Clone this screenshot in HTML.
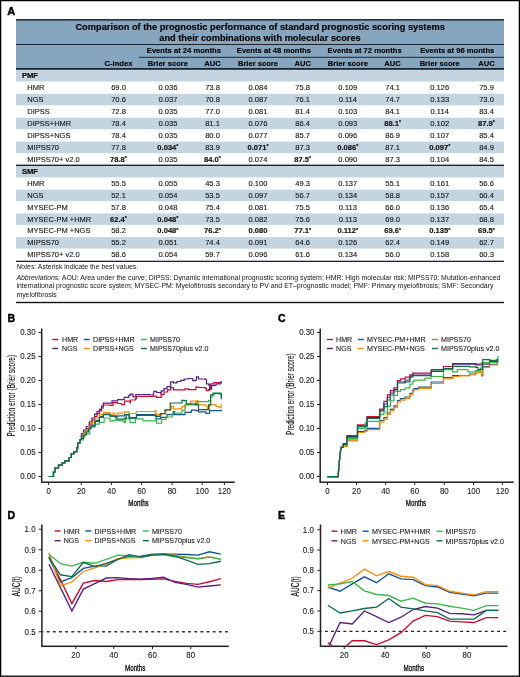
<!DOCTYPE html>
<html><head><meta charset="utf-8"><title>Prognostic performance</title>
<style>html,body{margin:0;padding:0;background:#fff;width:520px;height:677px;overflow:hidden}svg{display:block;will-change:transform}text{font-family:"Liberation Sans", sans-serif;stroke:#151515;stroke-width:0.12px} text[font-weight=bold]{stroke-width:0.18px} text.n{stroke-width:0px} text.c{stroke-width:0.15px} text.m{stroke-width:0.35px} text.t{stroke-width:0.1px} text.p{stroke:#000;stroke-width:0.45px}</style></head>
<body><svg width="520" height="677" viewBox="0 0 520 677" font-family='"Liberation Sans", sans-serif'>
<rect x="0.6" y="0.6" width="518.8" height="675.6" fill="#fff" stroke="#000" stroke-width="1.3"/>
<text class="p" x="7.30" y="15.20" font-size="11.00" font-weight="bold" font-style="normal" text-anchor="start" fill="#000"  >A</text>
<rect x="16" y="19.5" width="488" height="49.5" fill="#86a6c0"/>
<rect x="16" y="19.1" width="488" height="1.5" fill="#1c2630"/>
<rect x="16" y="44" width="488" height="1" fill="#1c2630"/>
<rect x="139" y="56.8" width="365" height="1" fill="#1c2630"/>
<rect x="16" y="68" width="488" height="1.9" fill="#1c2630"/>
<text class="" x="260.20" y="30.20" font-size="9.62" font-weight="bold" font-style="normal" text-anchor="middle" fill="#000" textLength="369.52" lengthAdjust="spacingAndGlyphs" >Comparison of the prognostic performance of standard prognostic scoring systems</text>
<text class="" x="260.00" y="40.90" font-size="9.62" font-weight="bold" font-style="normal" text-anchor="middle" fill="#000" textLength="201.48" lengthAdjust="spacingAndGlyphs" >and their combinations with molecular scores</text>
<text class="" x="146.80" y="52.80" font-size="8.08" font-weight="bold" font-style="normal" text-anchor="start" fill="#000" textLength="74.10" lengthAdjust="spacingAndGlyphs" >Events at 24 months</text>
<text class="" x="236.80" y="52.80" font-size="8.08" font-weight="bold" font-style="normal" text-anchor="start" fill="#000" textLength="74.10" lengthAdjust="spacingAndGlyphs" >Events at 48 months</text>
<text class="" x="327.60" y="52.80" font-size="8.08" font-weight="bold" font-style="normal" text-anchor="start" fill="#000" textLength="74.10" lengthAdjust="spacingAndGlyphs" >Events at 72 months</text>
<text class="" x="420.20" y="52.80" font-size="8.08" font-weight="bold" font-style="normal" text-anchor="start" fill="#000" textLength="74.10" lengthAdjust="spacingAndGlyphs" >Events at 96 months</text>
<text class="" x="118.50" y="65.60" font-size="8.06" font-weight="bold" font-style="normal" text-anchor="middle" fill="#000" textLength="27.87" lengthAdjust="spacingAndGlyphs" >C-index</text>
<text class="" x="167.90" y="65.60" font-size="8.06" font-weight="bold" font-style="normal" text-anchor="middle" fill="#000" textLength="40.13" lengthAdjust="spacingAndGlyphs" >Brier score</text>
<text class="" x="212.50" y="65.60" font-size="8.06" font-weight="bold" font-style="normal" text-anchor="middle" fill="#000" textLength="16.47" lengthAdjust="spacingAndGlyphs" >AUC</text>
<text class="" x="258.00" y="65.60" font-size="8.06" font-weight="bold" font-style="normal" text-anchor="middle" fill="#000" textLength="40.13" lengthAdjust="spacingAndGlyphs" >Brier score</text>
<text class="" x="302.70" y="65.60" font-size="8.06" font-weight="bold" font-style="normal" text-anchor="middle" fill="#000" textLength="16.47" lengthAdjust="spacingAndGlyphs" >AUC</text>
<text class="" x="347.80" y="65.60" font-size="8.06" font-weight="bold" font-style="normal" text-anchor="middle" fill="#000" textLength="40.13" lengthAdjust="spacingAndGlyphs" >Brier score</text>
<text class="" x="392.60" y="65.60" font-size="8.06" font-weight="bold" font-style="normal" text-anchor="middle" fill="#000" textLength="16.47" lengthAdjust="spacingAndGlyphs" >AUC</text>
<text class="" x="439.70" y="65.60" font-size="8.06" font-weight="bold" font-style="normal" text-anchor="middle" fill="#000" textLength="40.13" lengthAdjust="spacingAndGlyphs" >Brier score</text>
<text class="" x="486.50" y="65.60" font-size="8.06" font-weight="bold" font-style="normal" text-anchor="middle" fill="#000" textLength="16.47" lengthAdjust="spacingAndGlyphs" >AUC</text>
<rect x="16" y="69.90" width="488" height="11.55" fill="#c4d4e1"/>
<rect x="16" y="93.80" width="488" height="11.55" fill="#c4d4e1"/>
<rect x="16" y="117.70" width="488" height="11.55" fill="#c4d4e1"/>
<rect x="16" y="141.60" width="488" height="11.55" fill="#c4d4e1"/>
<text class="" x="21.90" y="77.80" font-size="8.06" font-weight="bold" font-style="normal" text-anchor="start" fill="#000" textLength="16.04" lengthAdjust="spacingAndGlyphs" >PMF</text>
<text class="" x="27.30" y="90.05" font-size="7.95" font-weight="normal" font-style="normal" text-anchor="start" fill="#151515" textLength="17.08" lengthAdjust="spacingAndGlyphs" >HMR</text>
<text class="" x="118.50" y="90.05" font-size="8.00" font-weight="normal" font-style="normal" text-anchor="middle" fill="#151515" textLength="14.69" lengthAdjust="spacingAndGlyphs" >69.0</text>
<text class="" x="167.90" y="90.05" font-size="8.00" font-weight="normal" font-style="normal" text-anchor="middle" fill="#151515" textLength="18.89" lengthAdjust="spacingAndGlyphs" >0.036</text>
<text class="" x="212.50" y="90.05" font-size="8.00" font-weight="normal" font-style="normal" text-anchor="middle" fill="#151515" textLength="14.69" lengthAdjust="spacingAndGlyphs" >73.8</text>
<text class="" x="258.00" y="90.05" font-size="8.00" font-weight="normal" font-style="normal" text-anchor="middle" fill="#151515" textLength="18.89" lengthAdjust="spacingAndGlyphs" >0.084</text>
<text class="" x="302.70" y="90.05" font-size="8.00" font-weight="normal" font-style="normal" text-anchor="middle" fill="#151515" textLength="14.69" lengthAdjust="spacingAndGlyphs" >75.8</text>
<text class="" x="347.80" y="90.05" font-size="8.00" font-weight="normal" font-style="normal" text-anchor="middle" fill="#151515" textLength="18.89" lengthAdjust="spacingAndGlyphs" >0.109</text>
<text class="" x="392.60" y="90.05" font-size="8.00" font-weight="normal" font-style="normal" text-anchor="middle" fill="#151515" textLength="14.69" lengthAdjust="spacingAndGlyphs" >74.1</text>
<text class="" x="439.70" y="90.05" font-size="8.00" font-weight="normal" font-style="normal" text-anchor="middle" fill="#151515" textLength="18.89" lengthAdjust="spacingAndGlyphs" >0.126</text>
<text class="" x="486.50" y="90.05" font-size="8.00" font-weight="normal" font-style="normal" text-anchor="middle" fill="#151515" textLength="14.69" lengthAdjust="spacingAndGlyphs" >75.9</text>
<text class="" x="27.30" y="102.00" font-size="7.95" font-weight="normal" font-style="normal" text-anchor="start" fill="#151515" textLength="16.25" lengthAdjust="spacingAndGlyphs" >NGS</text>
<text class="" x="118.50" y="102.00" font-size="8.00" font-weight="normal" font-style="normal" text-anchor="middle" fill="#151515" textLength="14.69" lengthAdjust="spacingAndGlyphs" >70.6</text>
<text class="" x="167.90" y="102.00" font-size="8.00" font-weight="normal" font-style="normal" text-anchor="middle" fill="#151515" textLength="18.89" lengthAdjust="spacingAndGlyphs" >0.037</text>
<text class="" x="212.50" y="102.00" font-size="8.00" font-weight="normal" font-style="normal" text-anchor="middle" fill="#151515" textLength="14.69" lengthAdjust="spacingAndGlyphs" >70.8</text>
<text class="" x="258.00" y="102.00" font-size="8.00" font-weight="normal" font-style="normal" text-anchor="middle" fill="#151515" textLength="18.89" lengthAdjust="spacingAndGlyphs" >0.087</text>
<text class="" x="302.70" y="102.00" font-size="8.00" font-weight="normal" font-style="normal" text-anchor="middle" fill="#151515" textLength="14.69" lengthAdjust="spacingAndGlyphs" >76.1</text>
<text class="" x="347.80" y="102.00" font-size="8.00" font-weight="normal" font-style="normal" text-anchor="middle" fill="#151515" textLength="18.33" lengthAdjust="spacingAndGlyphs" >0.114</text>
<text class="" x="392.60" y="102.00" font-size="8.00" font-weight="normal" font-style="normal" text-anchor="middle" fill="#151515" textLength="14.69" lengthAdjust="spacingAndGlyphs" >74.7</text>
<text class="" x="439.70" y="102.00" font-size="8.00" font-weight="normal" font-style="normal" text-anchor="middle" fill="#151515" textLength="18.89" lengthAdjust="spacingAndGlyphs" >0.133</text>
<text class="" x="486.50" y="102.00" font-size="8.00" font-weight="normal" font-style="normal" text-anchor="middle" fill="#151515" textLength="14.69" lengthAdjust="spacingAndGlyphs" >73.0</text>
<text class="" x="27.30" y="113.95" font-size="7.95" font-weight="normal" font-style="normal" text-anchor="start" fill="#151515" textLength="22.51" lengthAdjust="spacingAndGlyphs" >DIPSS</text>
<text class="" x="118.50" y="113.95" font-size="8.00" font-weight="normal" font-style="normal" text-anchor="middle" fill="#151515" textLength="14.69" lengthAdjust="spacingAndGlyphs" >72.8</text>
<text class="" x="167.90" y="113.95" font-size="8.00" font-weight="normal" font-style="normal" text-anchor="middle" fill="#151515" textLength="18.89" lengthAdjust="spacingAndGlyphs" >0.035</text>
<text class="" x="212.50" y="113.95" font-size="8.00" font-weight="normal" font-style="normal" text-anchor="middle" fill="#151515" textLength="14.69" lengthAdjust="spacingAndGlyphs" >77.0</text>
<text class="" x="258.00" y="113.95" font-size="8.00" font-weight="normal" font-style="normal" text-anchor="middle" fill="#151515" textLength="18.89" lengthAdjust="spacingAndGlyphs" >0.081</text>
<text class="" x="302.70" y="113.95" font-size="8.00" font-weight="normal" font-style="normal" text-anchor="middle" fill="#151515" textLength="14.69" lengthAdjust="spacingAndGlyphs" >81.4</text>
<text class="" x="347.80" y="113.95" font-size="8.00" font-weight="normal" font-style="normal" text-anchor="middle" fill="#151515" textLength="18.89" lengthAdjust="spacingAndGlyphs" >0.103</text>
<text class="" x="392.60" y="113.95" font-size="8.00" font-weight="normal" font-style="normal" text-anchor="middle" fill="#151515" textLength="14.69" lengthAdjust="spacingAndGlyphs" >84.1</text>
<text class="" x="439.70" y="113.95" font-size="8.00" font-weight="normal" font-style="normal" text-anchor="middle" fill="#151515" textLength="18.33" lengthAdjust="spacingAndGlyphs" >0.114</text>
<text class="" x="486.50" y="113.95" font-size="8.00" font-weight="normal" font-style="normal" text-anchor="middle" fill="#151515" textLength="14.69" lengthAdjust="spacingAndGlyphs" >83.4</text>
<text class="" x="27.30" y="125.90" font-size="7.95" font-weight="normal" font-style="normal" text-anchor="start" fill="#151515" textLength="43.97" lengthAdjust="spacingAndGlyphs" >DIPSS+HMR</text>
<text class="" x="118.50" y="125.90" font-size="8.00" font-weight="normal" font-style="normal" text-anchor="middle" fill="#151515" textLength="14.69" lengthAdjust="spacingAndGlyphs" >78.4</text>
<text class="" x="167.90" y="125.90" font-size="8.00" font-weight="normal" font-style="normal" text-anchor="middle" fill="#151515" textLength="18.89" lengthAdjust="spacingAndGlyphs" >0.035</text>
<text class="" x="212.50" y="125.90" font-size="8.00" font-weight="normal" font-style="normal" text-anchor="middle" fill="#151515" textLength="14.69" lengthAdjust="spacingAndGlyphs" >81.1</text>
<text class="" x="258.00" y="125.90" font-size="8.00" font-weight="normal" font-style="normal" text-anchor="middle" fill="#151515" textLength="18.89" lengthAdjust="spacingAndGlyphs" >0.076</text>
<text class="" x="302.70" y="125.90" font-size="8.00" font-weight="normal" font-style="normal" text-anchor="middle" fill="#151515" textLength="14.69" lengthAdjust="spacingAndGlyphs" >86.4</text>
<text class="" x="347.80" y="125.90" font-size="8.00" font-weight="normal" font-style="normal" text-anchor="middle" fill="#151515" textLength="18.89" lengthAdjust="spacingAndGlyphs" >0.093</text>
<text class="" x="392.60" y="125.90" font-size="8.00" font-weight="bold" font-style="normal" text-anchor="middle" fill="#151515" textLength="16.87" lengthAdjust="spacingAndGlyphs" >88.1<tspan font-size="5.6" dy="-1.5">*</tspan></text>
<text class="" x="439.70" y="125.90" font-size="8.00" font-weight="normal" font-style="normal" text-anchor="middle" fill="#151515" textLength="18.89" lengthAdjust="spacingAndGlyphs" >0.102</text>
<text class="" x="486.50" y="125.90" font-size="8.00" font-weight="bold" font-style="normal" text-anchor="middle" fill="#151515" textLength="16.87" lengthAdjust="spacingAndGlyphs" >87.9<tspan font-size="5.6" dy="-1.5">*</tspan></text>
<text class="" x="27.30" y="137.85" font-size="7.95" font-weight="normal" font-style="normal" text-anchor="start" fill="#151515" textLength="43.14" lengthAdjust="spacingAndGlyphs" >DIPSS+NGS</text>
<text class="" x="118.50" y="137.85" font-size="8.00" font-weight="normal" font-style="normal" text-anchor="middle" fill="#151515" textLength="14.69" lengthAdjust="spacingAndGlyphs" >78.4</text>
<text class="" x="167.90" y="137.85" font-size="8.00" font-weight="normal" font-style="normal" text-anchor="middle" fill="#151515" textLength="18.89" lengthAdjust="spacingAndGlyphs" >0.035</text>
<text class="" x="212.50" y="137.85" font-size="8.00" font-weight="normal" font-style="normal" text-anchor="middle" fill="#151515" textLength="14.69" lengthAdjust="spacingAndGlyphs" >80.0</text>
<text class="" x="258.00" y="137.85" font-size="8.00" font-weight="normal" font-style="normal" text-anchor="middle" fill="#151515" textLength="18.89" lengthAdjust="spacingAndGlyphs" >0.077</text>
<text class="" x="302.70" y="137.85" font-size="8.00" font-weight="normal" font-style="normal" text-anchor="middle" fill="#151515" textLength="14.69" lengthAdjust="spacingAndGlyphs" >85.7</text>
<text class="" x="347.80" y="137.85" font-size="8.00" font-weight="normal" font-style="normal" text-anchor="middle" fill="#151515" textLength="18.89" lengthAdjust="spacingAndGlyphs" >0.096</text>
<text class="" x="392.60" y="137.85" font-size="8.00" font-weight="normal" font-style="normal" text-anchor="middle" fill="#151515" textLength="14.69" lengthAdjust="spacingAndGlyphs" >86.9</text>
<text class="" x="439.70" y="137.85" font-size="8.00" font-weight="normal" font-style="normal" text-anchor="middle" fill="#151515" textLength="18.89" lengthAdjust="spacingAndGlyphs" >0.107</text>
<text class="" x="486.50" y="137.85" font-size="8.00" font-weight="normal" font-style="normal" text-anchor="middle" fill="#151515" textLength="14.69" lengthAdjust="spacingAndGlyphs" >85.4</text>
<text class="" x="27.30" y="149.80" font-size="7.95" font-weight="normal" font-style="normal" text-anchor="start" fill="#151515" textLength="31.68" lengthAdjust="spacingAndGlyphs" >MIPSS70</text>
<text class="" x="118.50" y="149.80" font-size="8.00" font-weight="normal" font-style="normal" text-anchor="middle" fill="#151515" textLength="14.69" lengthAdjust="spacingAndGlyphs" >77.8</text>
<text class="" x="167.90" y="149.80" font-size="8.00" font-weight="bold" font-style="normal" text-anchor="middle" fill="#151515" textLength="21.07" lengthAdjust="spacingAndGlyphs" >0.034<tspan font-size="5.6" dy="-1.5">*</tspan></text>
<text class="" x="212.50" y="149.80" font-size="8.00" font-weight="normal" font-style="normal" text-anchor="middle" fill="#151515" textLength="14.69" lengthAdjust="spacingAndGlyphs" >83.9</text>
<text class="" x="258.00" y="149.80" font-size="8.00" font-weight="bold" font-style="normal" text-anchor="middle" fill="#151515" textLength="21.07" lengthAdjust="spacingAndGlyphs" >0.071<tspan font-size="5.6" dy="-1.5">*</tspan></text>
<text class="" x="302.70" y="149.80" font-size="8.00" font-weight="normal" font-style="normal" text-anchor="middle" fill="#151515" textLength="14.69" lengthAdjust="spacingAndGlyphs" >87.3</text>
<text class="" x="347.80" y="149.80" font-size="8.00" font-weight="bold" font-style="normal" text-anchor="middle" fill="#151515" textLength="21.07" lengthAdjust="spacingAndGlyphs" >0.086<tspan font-size="5.6" dy="-1.5">*</tspan></text>
<text class="" x="392.60" y="149.80" font-size="8.00" font-weight="normal" font-style="normal" text-anchor="middle" fill="#151515" textLength="14.69" lengthAdjust="spacingAndGlyphs" >87.1</text>
<text class="" x="439.70" y="149.80" font-size="8.00" font-weight="bold" font-style="normal" text-anchor="middle" fill="#151515" textLength="21.07" lengthAdjust="spacingAndGlyphs" >0.097<tspan font-size="5.6" dy="-1.5">*</tspan></text>
<text class="" x="486.50" y="149.80" font-size="8.00" font-weight="normal" font-style="normal" text-anchor="middle" fill="#151515" textLength="14.69" lengthAdjust="spacingAndGlyphs" >84.9</text>
<text class="" x="27.30" y="161.75" font-size="7.95" font-weight="normal" font-style="normal" text-anchor="start" fill="#151515" textLength="52.32" lengthAdjust="spacingAndGlyphs" >MIPSS70+ v2.0</text>
<text class="" x="118.50" y="161.75" font-size="8.00" font-weight="bold" font-style="normal" text-anchor="middle" fill="#151515" textLength="16.87" lengthAdjust="spacingAndGlyphs" >78.8<tspan font-size="5.6" dy="-1.5">*</tspan></text>
<text class="" x="167.90" y="161.75" font-size="8.00" font-weight="normal" font-style="normal" text-anchor="middle" fill="#151515" textLength="18.89" lengthAdjust="spacingAndGlyphs" >0.035</text>
<text class="" x="212.50" y="161.75" font-size="8.00" font-weight="bold" font-style="normal" text-anchor="middle" fill="#151515" textLength="16.87" lengthAdjust="spacingAndGlyphs" >84.0<tspan font-size="5.6" dy="-1.5">*</tspan></text>
<text class="" x="258.00" y="161.75" font-size="8.00" font-weight="normal" font-style="normal" text-anchor="middle" fill="#151515" textLength="18.89" lengthAdjust="spacingAndGlyphs" >0.074</text>
<text class="" x="302.70" y="161.75" font-size="8.00" font-weight="bold" font-style="normal" text-anchor="middle" fill="#151515" textLength="16.87" lengthAdjust="spacingAndGlyphs" >87.5<tspan font-size="5.6" dy="-1.5">*</tspan></text>
<text class="" x="347.80" y="161.75" font-size="8.00" font-weight="normal" font-style="normal" text-anchor="middle" fill="#151515" textLength="18.89" lengthAdjust="spacingAndGlyphs" >0.090</text>
<text class="" x="392.60" y="161.75" font-size="8.00" font-weight="normal" font-style="normal" text-anchor="middle" fill="#151515" textLength="14.69" lengthAdjust="spacingAndGlyphs" >87.3</text>
<text class="" x="439.70" y="161.75" font-size="8.00" font-weight="normal" font-style="normal" text-anchor="middle" fill="#151515" textLength="18.89" lengthAdjust="spacingAndGlyphs" >0.104</text>
<text class="" x="486.50" y="161.75" font-size="8.00" font-weight="normal" font-style="normal" text-anchor="middle" fill="#151515" textLength="14.69" lengthAdjust="spacingAndGlyphs" >84.5</text>
<rect x="16" y="164.6" width="488" height="1.4" fill="#1c2630"/>
<rect x="16" y="166.00" width="488" height="11.45" fill="#c4d4e1"/>
<rect x="16" y="189.70" width="488" height="11.45" fill="#c4d4e1"/>
<rect x="16" y="213.40" width="488" height="11.45" fill="#c4d4e1"/>
<rect x="16" y="237.10" width="488" height="11.45" fill="#c4d4e1"/>
<text class="" x="21.90" y="173.90" font-size="8.06" font-weight="bold" font-style="normal" text-anchor="start" fill="#000" textLength="16.04" lengthAdjust="spacingAndGlyphs" >SMF</text>
<text class="" x="27.30" y="186.05" font-size="7.95" font-weight="normal" font-style="normal" text-anchor="start" fill="#151515" textLength="17.08" lengthAdjust="spacingAndGlyphs" >HMR</text>
<text class="" x="118.50" y="186.05" font-size="8.00" font-weight="normal" font-style="normal" text-anchor="middle" fill="#151515" textLength="14.69" lengthAdjust="spacingAndGlyphs" >55.5</text>
<text class="" x="167.90" y="186.05" font-size="8.00" font-weight="normal" font-style="normal" text-anchor="middle" fill="#151515" textLength="18.89" lengthAdjust="spacingAndGlyphs" >0.055</text>
<text class="" x="212.50" y="186.05" font-size="8.00" font-weight="normal" font-style="normal" text-anchor="middle" fill="#151515" textLength="14.69" lengthAdjust="spacingAndGlyphs" >45.3</text>
<text class="" x="258.00" y="186.05" font-size="8.00" font-weight="normal" font-style="normal" text-anchor="middle" fill="#151515" textLength="18.89" lengthAdjust="spacingAndGlyphs" >0.100</text>
<text class="" x="302.70" y="186.05" font-size="8.00" font-weight="normal" font-style="normal" text-anchor="middle" fill="#151515" textLength="14.69" lengthAdjust="spacingAndGlyphs" >49.3</text>
<text class="" x="347.80" y="186.05" font-size="8.00" font-weight="normal" font-style="normal" text-anchor="middle" fill="#151515" textLength="18.89" lengthAdjust="spacingAndGlyphs" >0.137</text>
<text class="" x="392.60" y="186.05" font-size="8.00" font-weight="normal" font-style="normal" text-anchor="middle" fill="#151515" textLength="14.69" lengthAdjust="spacingAndGlyphs" >55.1</text>
<text class="" x="439.70" y="186.05" font-size="8.00" font-weight="normal" font-style="normal" text-anchor="middle" fill="#151515" textLength="18.89" lengthAdjust="spacingAndGlyphs" >0.161</text>
<text class="" x="486.50" y="186.05" font-size="8.00" font-weight="normal" font-style="normal" text-anchor="middle" fill="#151515" textLength="14.69" lengthAdjust="spacingAndGlyphs" >56.6</text>
<text class="" x="27.30" y="197.90" font-size="7.95" font-weight="normal" font-style="normal" text-anchor="start" fill="#151515" textLength="16.25" lengthAdjust="spacingAndGlyphs" >NGS</text>
<text class="" x="118.50" y="197.90" font-size="8.00" font-weight="normal" font-style="normal" text-anchor="middle" fill="#151515" textLength="14.69" lengthAdjust="spacingAndGlyphs" >52.1</text>
<text class="" x="167.90" y="197.90" font-size="8.00" font-weight="normal" font-style="normal" text-anchor="middle" fill="#151515" textLength="18.89" lengthAdjust="spacingAndGlyphs" >0.054</text>
<text class="" x="212.50" y="197.90" font-size="8.00" font-weight="normal" font-style="normal" text-anchor="middle" fill="#151515" textLength="14.69" lengthAdjust="spacingAndGlyphs" >53.5</text>
<text class="" x="258.00" y="197.90" font-size="8.00" font-weight="normal" font-style="normal" text-anchor="middle" fill="#151515" textLength="18.89" lengthAdjust="spacingAndGlyphs" >0.097</text>
<text class="" x="302.70" y="197.90" font-size="8.00" font-weight="normal" font-style="normal" text-anchor="middle" fill="#151515" textLength="14.69" lengthAdjust="spacingAndGlyphs" >56.7</text>
<text class="" x="347.80" y="197.90" font-size="8.00" font-weight="normal" font-style="normal" text-anchor="middle" fill="#151515" textLength="18.89" lengthAdjust="spacingAndGlyphs" >0.134</text>
<text class="" x="392.60" y="197.90" font-size="8.00" font-weight="normal" font-style="normal" text-anchor="middle" fill="#151515" textLength="14.69" lengthAdjust="spacingAndGlyphs" >58.8</text>
<text class="" x="439.70" y="197.90" font-size="8.00" font-weight="normal" font-style="normal" text-anchor="middle" fill="#151515" textLength="18.89" lengthAdjust="spacingAndGlyphs" >0.157</text>
<text class="" x="486.50" y="197.90" font-size="8.00" font-weight="normal" font-style="normal" text-anchor="middle" fill="#151515" textLength="14.69" lengthAdjust="spacingAndGlyphs" >60.4</text>
<text class="" x="27.30" y="209.75" font-size="7.95" font-weight="normal" font-style="normal" text-anchor="start" fill="#151515" textLength="40.42" lengthAdjust="spacingAndGlyphs" >MYSEC-PM</text>
<text class="" x="118.50" y="209.75" font-size="8.00" font-weight="normal" font-style="normal" text-anchor="middle" fill="#151515" textLength="14.69" lengthAdjust="spacingAndGlyphs" >57.8</text>
<text class="" x="167.90" y="209.75" font-size="8.00" font-weight="normal" font-style="normal" text-anchor="middle" fill="#151515" textLength="18.89" lengthAdjust="spacingAndGlyphs" >0.048</text>
<text class="" x="212.50" y="209.75" font-size="8.00" font-weight="normal" font-style="normal" text-anchor="middle" fill="#151515" textLength="14.69" lengthAdjust="spacingAndGlyphs" >75.4</text>
<text class="" x="258.00" y="209.75" font-size="8.00" font-weight="normal" font-style="normal" text-anchor="middle" fill="#151515" textLength="18.89" lengthAdjust="spacingAndGlyphs" >0.081</text>
<text class="" x="302.70" y="209.75" font-size="8.00" font-weight="normal" font-style="normal" text-anchor="middle" fill="#151515" textLength="14.69" lengthAdjust="spacingAndGlyphs" >75.5</text>
<text class="" x="347.80" y="209.75" font-size="8.00" font-weight="normal" font-style="normal" text-anchor="middle" fill="#151515" textLength="18.33" lengthAdjust="spacingAndGlyphs" >0.113</text>
<text class="" x="392.60" y="209.75" font-size="8.00" font-weight="normal" font-style="normal" text-anchor="middle" fill="#151515" textLength="14.69" lengthAdjust="spacingAndGlyphs" >66.0</text>
<text class="" x="439.70" y="209.75" font-size="8.00" font-weight="normal" font-style="normal" text-anchor="middle" fill="#151515" textLength="18.89" lengthAdjust="spacingAndGlyphs" >0.136</text>
<text class="" x="486.50" y="209.75" font-size="8.00" font-weight="normal" font-style="normal" text-anchor="middle" fill="#151515" textLength="14.69" lengthAdjust="spacingAndGlyphs" >65.4</text>
<text class="" x="27.30" y="221.60" font-size="7.95" font-weight="normal" font-style="normal" text-anchor="start" fill="#151515" textLength="63.96" lengthAdjust="spacingAndGlyphs" >MYSEC-PM +HMR</text>
<text class="" x="118.50" y="221.60" font-size="8.00" font-weight="bold" font-style="normal" text-anchor="middle" fill="#151515" textLength="16.87" lengthAdjust="spacingAndGlyphs" >62.4<tspan font-size="5.6" dy="-1.5">*</tspan></text>
<text class="" x="167.90" y="221.60" font-size="8.00" font-weight="bold" font-style="normal" text-anchor="middle" fill="#151515" textLength="21.07" lengthAdjust="spacingAndGlyphs" >0.048<tspan font-size="5.6" dy="-1.5">*</tspan></text>
<text class="" x="212.50" y="221.60" font-size="8.00" font-weight="normal" font-style="normal" text-anchor="middle" fill="#151515" textLength="14.69" lengthAdjust="spacingAndGlyphs" >73.5</text>
<text class="" x="258.00" y="221.60" font-size="8.00" font-weight="normal" font-style="normal" text-anchor="middle" fill="#151515" textLength="18.89" lengthAdjust="spacingAndGlyphs" >0.082</text>
<text class="" x="302.70" y="221.60" font-size="8.00" font-weight="normal" font-style="normal" text-anchor="middle" fill="#151515" textLength="14.69" lengthAdjust="spacingAndGlyphs" >75.6</text>
<text class="" x="347.80" y="221.60" font-size="8.00" font-weight="normal" font-style="normal" text-anchor="middle" fill="#151515" textLength="18.33" lengthAdjust="spacingAndGlyphs" >0.113</text>
<text class="" x="392.60" y="221.60" font-size="8.00" font-weight="normal" font-style="normal" text-anchor="middle" fill="#151515" textLength="14.69" lengthAdjust="spacingAndGlyphs" >69.0</text>
<text class="" x="439.70" y="221.60" font-size="8.00" font-weight="normal" font-style="normal" text-anchor="middle" fill="#151515" textLength="18.89" lengthAdjust="spacingAndGlyphs" >0.137</text>
<text class="" x="486.50" y="221.60" font-size="8.00" font-weight="normal" font-style="normal" text-anchor="middle" fill="#151515" textLength="14.69" lengthAdjust="spacingAndGlyphs" >68.8</text>
<text class="" x="27.30" y="233.45" font-size="7.95" font-weight="normal" font-style="normal" text-anchor="start" fill="#151515" textLength="63.14" lengthAdjust="spacingAndGlyphs" >MYSEC-PM +NGS</text>
<text class="" x="118.50" y="233.45" font-size="8.00" font-weight="normal" font-style="normal" text-anchor="middle" fill="#151515" textLength="14.69" lengthAdjust="spacingAndGlyphs" >58.2</text>
<text class="" x="167.90" y="233.45" font-size="8.00" font-weight="bold" font-style="normal" text-anchor="middle" fill="#151515" textLength="21.07" lengthAdjust="spacingAndGlyphs" >0.048<tspan font-size="5.6" dy="-1.5">*</tspan></text>
<text class="" x="212.50" y="233.45" font-size="8.00" font-weight="bold" font-style="normal" text-anchor="middle" fill="#151515" textLength="16.87" lengthAdjust="spacingAndGlyphs" >76.2<tspan font-size="5.6" dy="-1.5">*</tspan></text>
<text class="" x="258.00" y="233.45" font-size="8.00" font-weight="bold" font-style="normal" text-anchor="middle" fill="#151515" textLength="18.89" lengthAdjust="spacingAndGlyphs" >0.080</text>
<text class="" x="302.70" y="233.45" font-size="8.00" font-weight="bold" font-style="normal" text-anchor="middle" fill="#151515" textLength="16.87" lengthAdjust="spacingAndGlyphs" >77.1<tspan font-size="5.6" dy="-1.5">*</tspan></text>
<text class="" x="347.80" y="233.45" font-size="8.00" font-weight="bold" font-style="normal" text-anchor="middle" fill="#151515" textLength="20.65" lengthAdjust="spacingAndGlyphs" >0.112<tspan font-size="5.6" dy="-1.5">*</tspan></text>
<text class="" x="392.60" y="233.45" font-size="8.00" font-weight="bold" font-style="normal" text-anchor="middle" fill="#151515" textLength="16.87" lengthAdjust="spacingAndGlyphs" >69.6<tspan font-size="5.6" dy="-1.5">*</tspan></text>
<text class="" x="439.70" y="233.45" font-size="8.00" font-weight="bold" font-style="normal" text-anchor="middle" fill="#151515" textLength="21.07" lengthAdjust="spacingAndGlyphs" >0.135<tspan font-size="5.6" dy="-1.5">*</tspan></text>
<text class="" x="486.50" y="233.45" font-size="8.00" font-weight="bold" font-style="normal" text-anchor="middle" fill="#151515" textLength="16.87" lengthAdjust="spacingAndGlyphs" >69.5<tspan font-size="5.6" dy="-1.5">*</tspan></text>
<text class="" x="27.30" y="245.30" font-size="7.95" font-weight="normal" font-style="normal" text-anchor="start" fill="#151515" textLength="31.68" lengthAdjust="spacingAndGlyphs" >MIPSS70</text>
<text class="" x="118.50" y="245.30" font-size="8.00" font-weight="normal" font-style="normal" text-anchor="middle" fill="#151515" textLength="14.69" lengthAdjust="spacingAndGlyphs" >55.2</text>
<text class="" x="167.90" y="245.30" font-size="8.00" font-weight="normal" font-style="normal" text-anchor="middle" fill="#151515" textLength="18.89" lengthAdjust="spacingAndGlyphs" >0.051</text>
<text class="" x="212.50" y="245.30" font-size="8.00" font-weight="normal" font-style="normal" text-anchor="middle" fill="#151515" textLength="14.69" lengthAdjust="spacingAndGlyphs" >74.4</text>
<text class="" x="258.00" y="245.30" font-size="8.00" font-weight="normal" font-style="normal" text-anchor="middle" fill="#151515" textLength="18.89" lengthAdjust="spacingAndGlyphs" >0.091</text>
<text class="" x="302.70" y="245.30" font-size="8.00" font-weight="normal" font-style="normal" text-anchor="middle" fill="#151515" textLength="14.69" lengthAdjust="spacingAndGlyphs" >64.6</text>
<text class="" x="347.80" y="245.30" font-size="8.00" font-weight="normal" font-style="normal" text-anchor="middle" fill="#151515" textLength="18.89" lengthAdjust="spacingAndGlyphs" >0.126</text>
<text class="" x="392.60" y="245.30" font-size="8.00" font-weight="normal" font-style="normal" text-anchor="middle" fill="#151515" textLength="14.69" lengthAdjust="spacingAndGlyphs" >62.4</text>
<text class="" x="439.70" y="245.30" font-size="8.00" font-weight="normal" font-style="normal" text-anchor="middle" fill="#151515" textLength="18.89" lengthAdjust="spacingAndGlyphs" >0.149</text>
<text class="" x="486.50" y="245.30" font-size="8.00" font-weight="normal" font-style="normal" text-anchor="middle" fill="#151515" textLength="14.69" lengthAdjust="spacingAndGlyphs" >62.7</text>
<text class="" x="27.30" y="257.15" font-size="7.95" font-weight="normal" font-style="normal" text-anchor="start" fill="#151515" textLength="52.32" lengthAdjust="spacingAndGlyphs" >MIPSS70+ v2.0</text>
<text class="" x="118.50" y="257.15" font-size="8.00" font-weight="normal" font-style="normal" text-anchor="middle" fill="#151515" textLength="14.69" lengthAdjust="spacingAndGlyphs" >58.6</text>
<text class="" x="167.90" y="257.15" font-size="8.00" font-weight="normal" font-style="normal" text-anchor="middle" fill="#151515" textLength="18.89" lengthAdjust="spacingAndGlyphs" >0.054</text>
<text class="" x="212.50" y="257.15" font-size="8.00" font-weight="normal" font-style="normal" text-anchor="middle" fill="#151515" textLength="14.69" lengthAdjust="spacingAndGlyphs" >59.7</text>
<text class="" x="258.00" y="257.15" font-size="8.00" font-weight="normal" font-style="normal" text-anchor="middle" fill="#151515" textLength="18.89" lengthAdjust="spacingAndGlyphs" >0.096</text>
<text class="" x="302.70" y="257.15" font-size="8.00" font-weight="normal" font-style="normal" text-anchor="middle" fill="#151515" textLength="14.69" lengthAdjust="spacingAndGlyphs" >61.6</text>
<text class="" x="347.80" y="257.15" font-size="8.00" font-weight="normal" font-style="normal" text-anchor="middle" fill="#151515" textLength="18.89" lengthAdjust="spacingAndGlyphs" >0.134</text>
<text class="" x="392.60" y="257.15" font-size="8.00" font-weight="normal" font-style="normal" text-anchor="middle" fill="#151515" textLength="14.69" lengthAdjust="spacingAndGlyphs" >56.0</text>
<text class="" x="439.70" y="257.15" font-size="8.00" font-weight="normal" font-style="normal" text-anchor="middle" fill="#151515" textLength="18.89" lengthAdjust="spacingAndGlyphs" >0.158</text>
<text class="" x="486.50" y="257.15" font-size="8.00" font-weight="normal" font-style="normal" text-anchor="middle" fill="#151515" textLength="14.69" lengthAdjust="spacingAndGlyphs" >60.3</text>
<rect x="16" y="260.7" width="488" height="1.3" fill="#1c2630"/>
<text class="n" x="16.4" y="268.7" font-size="6.9" fill="#151515"><tspan font-style="italic">Notes:</tspan> Asterisk indicate the best values.</text>
<text class="n" x="16.4" y="279.7" font-size="6.93" fill="#151515"><tspan font-style="italic">Abbreviations:</tspan> AOU: Area under the curve; DIPSS: Dynamic international prognostic scoring system; HMR: High molecular risk; MIPSS70: Mutation-enhanced</text>
<text class="n" x="16.4" y="288.2" font-size="6.93" fill="#151515">international prognostic score system; MYSEC-PM: Myelofibrosis secondary to PV and ET–prognostic model; PMF: Primary myelofibrosis; SMF: Secondary</text>
<text class="n" x="16.4" y="296.7" font-size="6.93" fill="#151515">myelofibrosis</text>
<rect x="16" y="301.8" width="488" height="1.4" fill="#141414"/>
<text class="p" x="7.60" y="322.40" font-size="10.50" font-weight="bold" font-style="normal" text-anchor="start" fill="#000"  >B</text>
<rect x="40.95" y="328.50" width="1.5" height="154.10" fill="#222"/>
<rect x="38.50" y="476.00" width="3" height="1" fill="#222"/>
<text class="t" x="35.60" y="479.25" font-size="8.69" font-weight="normal" font-style="normal" text-anchor="end" fill="#222" textLength="15.37" lengthAdjust="spacingAndGlyphs" >0.00</text>
<rect x="38.50" y="452.00" width="3" height="1" fill="#222"/>
<text class="t" x="35.60" y="455.25" font-size="8.69" font-weight="normal" font-style="normal" text-anchor="end" fill="#222" textLength="15.37" lengthAdjust="spacingAndGlyphs" >0.05</text>
<rect x="38.50" y="428.00" width="3" height="1" fill="#222"/>
<text class="t" x="35.60" y="431.25" font-size="8.69" font-weight="normal" font-style="normal" text-anchor="end" fill="#222" textLength="15.37" lengthAdjust="spacingAndGlyphs" >0.10</text>
<rect x="38.50" y="404.00" width="3" height="1" fill="#222"/>
<text class="t" x="35.60" y="407.25" font-size="8.69" font-weight="normal" font-style="normal" text-anchor="end" fill="#222" textLength="15.37" lengthAdjust="spacingAndGlyphs" >0.15</text>
<rect x="38.50" y="380.00" width="3" height="1" fill="#222"/>
<text class="t" x="35.60" y="383.25" font-size="8.69" font-weight="normal" font-style="normal" text-anchor="end" fill="#222" textLength="15.37" lengthAdjust="spacingAndGlyphs" >0.20</text>
<rect x="38.50" y="356.00" width="3" height="1" fill="#222"/>
<text class="t" x="35.60" y="359.25" font-size="8.69" font-weight="normal" font-style="normal" text-anchor="end" fill="#222" textLength="15.37" lengthAdjust="spacingAndGlyphs" >0.25</text>
<rect x="38.50" y="332.00" width="3" height="1" fill="#222"/>
<text class="t" x="35.60" y="335.25" font-size="8.69" font-weight="normal" font-style="normal" text-anchor="end" fill="#222" textLength="15.37" lengthAdjust="spacingAndGlyphs" >0.30</text>
<rect x="41.10" y="481.45" width="193.70" height="1.5" fill="#222"/>
<rect x="48.10" y="482.20" width="1" height="2.8" fill="#222"/>
<text class="t" x="48.60" y="494.20" font-size="8.69" font-weight="normal" font-style="normal" text-anchor="middle" fill="#222" textLength="4.39" lengthAdjust="spacingAndGlyphs" >0</text>
<rect x="80.80" y="482.20" width="1" height="2.8" fill="#222"/>
<text class="t" x="81.30" y="494.20" font-size="8.69" font-weight="normal" font-style="normal" text-anchor="middle" fill="#222" textLength="8.79" lengthAdjust="spacingAndGlyphs" >20</text>
<rect x="110.90" y="482.20" width="1" height="2.8" fill="#222"/>
<text class="t" x="111.40" y="494.20" font-size="8.69" font-weight="normal" font-style="normal" text-anchor="middle" fill="#222" textLength="8.79" lengthAdjust="spacingAndGlyphs" >40</text>
<rect x="141.10" y="482.20" width="1" height="2.8" fill="#222"/>
<text class="t" x="141.60" y="494.20" font-size="8.69" font-weight="normal" font-style="normal" text-anchor="middle" fill="#222" textLength="8.79" lengthAdjust="spacingAndGlyphs" >60</text>
<rect x="171.60" y="482.20" width="1" height="2.8" fill="#222"/>
<text class="t" x="172.10" y="494.20" font-size="8.69" font-weight="normal" font-style="normal" text-anchor="middle" fill="#222" textLength="8.79" lengthAdjust="spacingAndGlyphs" >80</text>
<rect x="201.70" y="482.20" width="1" height="2.8" fill="#222"/>
<text class="t" x="202.20" y="494.20" font-size="8.69" font-weight="normal" font-style="normal" text-anchor="middle" fill="#222" textLength="13.18" lengthAdjust="spacingAndGlyphs" >100</text>
<rect x="223.90" y="482.20" width="1" height="2.8" fill="#222"/>
<text class="t" x="224.40" y="494.20" font-size="8.69" font-weight="normal" font-style="normal" text-anchor="middle" fill="#222" textLength="13.18" lengthAdjust="spacingAndGlyphs" >120</text>
<text class="c" transform="translate(15.00,395.70) rotate(-90) scale(0.622,1)" font-size="10.4" text-anchor="middle" fill="#111">Prediction error (Brier score)</text>
<text class="m" transform="translate(138.50,506.40) scale(0.67,1)" font-size="9.3" text-anchor="middle" fill="#111">Months</text>
<rect x="52.30" y="338.80" width="5.9" height="1.4" fill="#c80c30"/>
<text class="t" x="62.00" y="342.25" font-size="7.67" textLength="16.17" lengthAdjust="spacingAndGlyphs" fill="#1a1a1a">HMR</text>
<rect x="52.30" y="347.80" width="5.9" height="1.4" fill="#561f7e"/>
<text class="t" x="62.00" y="351.25" font-size="7.67" textLength="15.39" lengthAdjust="spacingAndGlyphs" fill="#1a1a1a">NGS</text>
<rect x="83.80" y="338.80" width="5.9" height="1.4" fill="#155492"/>
<text class="t" x="93.00" y="342.25" font-size="7.67" textLength="41.62" lengthAdjust="spacingAndGlyphs" fill="#1a1a1a">DIPSS+HMR</text>
<rect x="83.80" y="347.80" width="5.9" height="1.4" fill="#f98d0c"/>
<text class="t" x="93.00" y="351.25" font-size="7.67" textLength="40.84" lengthAdjust="spacingAndGlyphs" fill="#1a1a1a">DIPSS+NGS</text>
<rect x="141.00" y="338.80" width="5.9" height="1.4" fill="#3cb54a"/>
<text class="t" x="150.00" y="342.25" font-size="7.67" textLength="29.99" lengthAdjust="spacingAndGlyphs" fill="#1a1a1a">MIPSS70</text>
<rect x="141.00" y="347.80" width="5.9" height="1.4" fill="#0b6b4e"/>
<text class="t" x="150.00" y="351.25" font-size="7.67" textLength="58.41" lengthAdjust="spacingAndGlyphs" fill="#1a1a1a">MIPSS70plus v2.0</text>
<text class="p" x="277.90" y="322.30" font-size="10.50" font-weight="bold" font-style="normal" text-anchor="start" fill="#000"  >C</text>
<rect x="319.45" y="328.50" width="1.5" height="154.10" fill="#222"/>
<rect x="317.00" y="476.00" width="3" height="1" fill="#222"/>
<text class="t" x="314.50" y="479.25" font-size="8.69" font-weight="normal" font-style="normal" text-anchor="end" fill="#222" textLength="15.37" lengthAdjust="spacingAndGlyphs" >0.00</text>
<rect x="317.00" y="452.00" width="3" height="1" fill="#222"/>
<text class="t" x="314.50" y="455.25" font-size="8.69" font-weight="normal" font-style="normal" text-anchor="end" fill="#222" textLength="15.37" lengthAdjust="spacingAndGlyphs" >0.05</text>
<rect x="317.00" y="428.00" width="3" height="1" fill="#222"/>
<text class="t" x="314.50" y="431.25" font-size="8.69" font-weight="normal" font-style="normal" text-anchor="end" fill="#222" textLength="15.37" lengthAdjust="spacingAndGlyphs" >0.10</text>
<rect x="317.00" y="404.00" width="3" height="1" fill="#222"/>
<text class="t" x="314.50" y="407.25" font-size="8.69" font-weight="normal" font-style="normal" text-anchor="end" fill="#222" textLength="15.37" lengthAdjust="spacingAndGlyphs" >0.15</text>
<rect x="317.00" y="380.00" width="3" height="1" fill="#222"/>
<text class="t" x="314.50" y="383.25" font-size="8.69" font-weight="normal" font-style="normal" text-anchor="end" fill="#222" textLength="15.37" lengthAdjust="spacingAndGlyphs" >0.20</text>
<rect x="317.00" y="356.00" width="3" height="1" fill="#222"/>
<text class="t" x="314.50" y="359.25" font-size="8.69" font-weight="normal" font-style="normal" text-anchor="end" fill="#222" textLength="15.37" lengthAdjust="spacingAndGlyphs" >0.25</text>
<rect x="317.00" y="332.00" width="3" height="1" fill="#222"/>
<text class="t" x="314.50" y="335.25" font-size="8.69" font-weight="normal" font-style="normal" text-anchor="end" fill="#222" textLength="15.37" lengthAdjust="spacingAndGlyphs" >0.30</text>
<rect x="319.60" y="481.45" width="194.10" height="1.5" fill="#222"/>
<rect x="327.00" y="482.20" width="1" height="2.8" fill="#222"/>
<text class="t" x="327.50" y="494.20" font-size="8.69" font-weight="normal" font-style="normal" text-anchor="middle" fill="#222" textLength="4.39" lengthAdjust="spacingAndGlyphs" >0</text>
<rect x="356.00" y="482.20" width="1" height="2.8" fill="#222"/>
<text class="t" x="356.50" y="494.20" font-size="8.69" font-weight="normal" font-style="normal" text-anchor="middle" fill="#222" textLength="8.79" lengthAdjust="spacingAndGlyphs" >20</text>
<rect x="385.10" y="482.20" width="1" height="2.8" fill="#222"/>
<text class="t" x="385.60" y="494.20" font-size="8.69" font-weight="normal" font-style="normal" text-anchor="middle" fill="#222" textLength="8.79" lengthAdjust="spacingAndGlyphs" >40</text>
<rect x="414.20" y="482.20" width="1" height="2.8" fill="#222"/>
<text class="t" x="414.70" y="494.20" font-size="8.69" font-weight="normal" font-style="normal" text-anchor="middle" fill="#222" textLength="8.79" lengthAdjust="spacingAndGlyphs" >60</text>
<rect x="443.80" y="482.20" width="1" height="2.8" fill="#222"/>
<text class="t" x="444.30" y="494.20" font-size="8.69" font-weight="normal" font-style="normal" text-anchor="middle" fill="#222" textLength="8.79" lengthAdjust="spacingAndGlyphs" >80</text>
<rect x="473.00" y="482.20" width="1" height="2.8" fill="#222"/>
<text class="t" x="473.50" y="494.20" font-size="8.69" font-weight="normal" font-style="normal" text-anchor="middle" fill="#222" textLength="13.18" lengthAdjust="spacingAndGlyphs" >100</text>
<rect x="501.90" y="482.20" width="1" height="2.8" fill="#222"/>
<text class="t" x="502.40" y="494.20" font-size="8.69" font-weight="normal" font-style="normal" text-anchor="middle" fill="#222" textLength="13.18" lengthAdjust="spacingAndGlyphs" >120</text>
<text class="c" transform="translate(293.50,394.10) rotate(-90) scale(0.622,1)" font-size="10.4" text-anchor="middle" fill="#111">Prediction error (Brier score)</text>
<text class="m" transform="translate(416.00,506.40) scale(0.67,1)" font-size="9.3" text-anchor="middle" fill="#111">Months</text>
<rect x="327.00" y="338.80" width="5.9" height="1.4" fill="#c80c30"/>
<text class="t" x="336.00" y="342.25" font-size="7.67" textLength="16.17" lengthAdjust="spacingAndGlyphs" fill="#1a1a1a">HMR</text>
<rect x="327.00" y="347.80" width="5.9" height="1.4" fill="#561f7e"/>
<text class="t" x="336.00" y="351.25" font-size="7.67" textLength="15.39" lengthAdjust="spacingAndGlyphs" fill="#1a1a1a">NGS</text>
<rect x="358.00" y="338.80" width="5.9" height="1.4" fill="#155492"/>
<text class="t" x="367.00" y="342.25" font-size="7.67" textLength="58.58" lengthAdjust="spacingAndGlyphs" fill="#1a1a1a">MYSEC-PM+HMR</text>
<rect x="358.00" y="347.80" width="5.9" height="1.4" fill="#f98d0c"/>
<text class="t" x="367.00" y="351.25" font-size="7.67" textLength="57.80" lengthAdjust="spacingAndGlyphs" fill="#1a1a1a">MYSEC-PM+NGS</text>
<rect x="432.00" y="338.80" width="5.9" height="1.4" fill="#3cb54a"/>
<text class="t" x="441.00" y="342.25" font-size="7.67" textLength="29.99" lengthAdjust="spacingAndGlyphs" fill="#1a1a1a">MIPSS70</text>
<rect x="432.00" y="347.80" width="5.9" height="1.4" fill="#0b6b4e"/>
<text class="t" x="441.00" y="351.25" font-size="7.67" textLength="58.41" lengthAdjust="spacingAndGlyphs" fill="#1a1a1a">MIPSS70plus v2.0</text>
<text class="p" x="7.60" y="519.30" font-size="10.50" font-weight="bold" font-style="normal" text-anchor="start" fill="#000"  >D</text>
<rect x="41.15" y="524.50" width="1.5" height="122.30" fill="#222"/>
<rect x="38.70" y="631.25" width="3" height="1" fill="#222"/>
<text class="t" x="35.60" y="634.50" font-size="8.69" font-weight="normal" font-style="normal" text-anchor="end" fill="#222" textLength="10.98" lengthAdjust="spacingAndGlyphs" >0.5</text>
<rect x="38.70" y="610.75" width="3" height="1" fill="#222"/>
<text class="t" x="35.60" y="614.00" font-size="8.69" font-weight="normal" font-style="normal" text-anchor="end" fill="#222" textLength="10.98" lengthAdjust="spacingAndGlyphs" >0.6</text>
<rect x="38.70" y="590.25" width="3" height="1" fill="#222"/>
<text class="t" x="35.60" y="593.50" font-size="8.69" font-weight="normal" font-style="normal" text-anchor="end" fill="#222" textLength="10.98" lengthAdjust="spacingAndGlyphs" >0.7</text>
<rect x="38.70" y="569.75" width="3" height="1" fill="#222"/>
<text class="t" x="35.60" y="573.00" font-size="8.69" font-weight="normal" font-style="normal" text-anchor="end" fill="#222" textLength="10.98" lengthAdjust="spacingAndGlyphs" >0.8</text>
<rect x="38.70" y="549.25" width="3" height="1" fill="#222"/>
<text class="t" x="35.60" y="552.50" font-size="8.69" font-weight="normal" font-style="normal" text-anchor="end" fill="#222" textLength="10.98" lengthAdjust="spacingAndGlyphs" >0.9</text>
<rect x="38.70" y="528.75" width="3" height="1" fill="#222"/>
<text class="t" x="35.60" y="532.00" font-size="8.69" font-weight="normal" font-style="normal" text-anchor="end" fill="#222" textLength="10.98" lengthAdjust="spacingAndGlyphs" >1.0</text>
<rect x="41.30" y="645.55" width="187.50" height="1.5" fill="#222"/>
<rect x="75.25" y="646.30" width="1" height="2.8" fill="#222"/>
<text class="t" x="75.75" y="658.30" font-size="8.69" font-weight="normal" font-style="normal" text-anchor="middle" fill="#222" textLength="8.79" lengthAdjust="spacingAndGlyphs" >20</text>
<rect x="113.25" y="646.30" width="1" height="2.8" fill="#222"/>
<text class="t" x="113.75" y="658.30" font-size="8.69" font-weight="normal" font-style="normal" text-anchor="middle" fill="#222" textLength="8.79" lengthAdjust="spacingAndGlyphs" >40</text>
<rect x="152.00" y="646.30" width="1" height="2.8" fill="#222"/>
<text class="t" x="152.50" y="658.30" font-size="8.69" font-weight="normal" font-style="normal" text-anchor="middle" fill="#222" textLength="8.79" lengthAdjust="spacingAndGlyphs" >60</text>
<rect x="190.25" y="646.30" width="1" height="2.8" fill="#222"/>
<text class="t" x="190.75" y="658.30" font-size="8.69" font-weight="normal" font-style="normal" text-anchor="middle" fill="#222" textLength="8.79" lengthAdjust="spacingAndGlyphs" >80</text>
<text class="c" transform="translate(20.00,586.40) rotate(-90) scale(0.6,1)" font-size="11.0" text-anchor="middle" fill="#111">AUC(t)</text>
<text class="m" transform="translate(135.20,671.10) scale(0.67,1)" font-size="9.3" text-anchor="middle" fill="#111">Months</text>
<line x1="42.5" y1="631.75" x2="229" y2="631.75" stroke="#333" stroke-width="1.35" stroke-dasharray="2.9,3.25" stroke-dashoffset="1.95"/>
<rect x="54.60" y="530.30" width="5.9" height="1.4" fill="#c80c30"/>
<text class="t" x="63.70" y="533.75" font-size="7.67" textLength="16.17" lengthAdjust="spacingAndGlyphs" fill="#1a1a1a">HMR</text>
<rect x="54.60" y="540.00" width="5.9" height="1.4" fill="#561f7e"/>
<text class="t" x="63.70" y="543.45" font-size="7.67" textLength="15.39" lengthAdjust="spacingAndGlyphs" fill="#1a1a1a">NGS</text>
<rect x="85.40" y="530.30" width="5.9" height="1.4" fill="#155492"/>
<text class="t" x="94.60" y="533.75" font-size="7.67" textLength="41.62" lengthAdjust="spacingAndGlyphs" fill="#1a1a1a">DIPSS+HMR</text>
<rect x="85.40" y="540.00" width="5.9" height="1.4" fill="#f98d0c"/>
<text class="t" x="94.60" y="543.45" font-size="7.67" textLength="40.84" lengthAdjust="spacingAndGlyphs" fill="#1a1a1a">DIPSS+NGS</text>
<rect x="142.90" y="530.30" width="5.9" height="1.4" fill="#3cb54a"/>
<text class="t" x="151.90" y="533.75" font-size="7.67" textLength="29.99" lengthAdjust="spacingAndGlyphs" fill="#1a1a1a">MIPSS70</text>
<rect x="142.90" y="540.00" width="5.9" height="1.4" fill="#0b6b4e"/>
<text class="t" x="151.90" y="543.45" font-size="7.67" textLength="58.41" lengthAdjust="spacingAndGlyphs" fill="#1a1a1a">MIPSS70plus v2.0</text>
<text class="p" x="277.90" y="519.40" font-size="10.50" font-weight="bold" font-style="normal" text-anchor="start" fill="#000"  >E</text>
<rect x="319.75" y="524.50" width="1.5" height="122.30" fill="#222"/>
<rect x="317.30" y="630.75" width="3" height="1" fill="#222"/>
<text class="t" x="313.80" y="634.00" font-size="8.69" font-weight="normal" font-style="normal" text-anchor="end" fill="#222" textLength="10.98" lengthAdjust="spacingAndGlyphs" >0.5</text>
<rect x="317.30" y="610.45" width="3" height="1" fill="#222"/>
<text class="t" x="313.80" y="613.70" font-size="8.69" font-weight="normal" font-style="normal" text-anchor="end" fill="#222" textLength="10.98" lengthAdjust="spacingAndGlyphs" >0.6</text>
<rect x="317.30" y="590.15" width="3" height="1" fill="#222"/>
<text class="t" x="313.80" y="593.40" font-size="8.69" font-weight="normal" font-style="normal" text-anchor="end" fill="#222" textLength="10.98" lengthAdjust="spacingAndGlyphs" >0.7</text>
<rect x="317.30" y="569.85" width="3" height="1" fill="#222"/>
<text class="t" x="313.80" y="573.10" font-size="8.69" font-weight="normal" font-style="normal" text-anchor="end" fill="#222" textLength="10.98" lengthAdjust="spacingAndGlyphs" >0.8</text>
<rect x="317.30" y="549.55" width="3" height="1" fill="#222"/>
<text class="t" x="313.80" y="552.80" font-size="8.69" font-weight="normal" font-style="normal" text-anchor="end" fill="#222" textLength="10.98" lengthAdjust="spacingAndGlyphs" >0.9</text>
<rect x="317.30" y="529.25" width="3" height="1" fill="#222"/>
<text class="t" x="313.80" y="532.50" font-size="8.69" font-weight="normal" font-style="normal" text-anchor="end" fill="#222" textLength="10.98" lengthAdjust="spacingAndGlyphs" >1.0</text>
<rect x="319.90" y="645.55" width="187.60" height="1.5" fill="#222"/>
<rect x="343.75" y="646.30" width="1" height="2.8" fill="#222"/>
<text class="t" x="344.25" y="658.30" font-size="8.69" font-weight="normal" font-style="normal" text-anchor="middle" fill="#222" textLength="8.79" lengthAdjust="spacingAndGlyphs" >20</text>
<rect x="384.60" y="646.30" width="1" height="2.8" fill="#222"/>
<text class="t" x="385.10" y="658.30" font-size="8.69" font-weight="normal" font-style="normal" text-anchor="middle" fill="#222" textLength="8.79" lengthAdjust="spacingAndGlyphs" >40</text>
<rect x="425.75" y="646.30" width="1" height="2.8" fill="#222"/>
<text class="t" x="426.25" y="658.30" font-size="8.69" font-weight="normal" font-style="normal" text-anchor="middle" fill="#222" textLength="8.79" lengthAdjust="spacingAndGlyphs" >60</text>
<rect x="466.50" y="646.30" width="1" height="2.8" fill="#222"/>
<text class="t" x="467.00" y="658.30" font-size="8.69" font-weight="normal" font-style="normal" text-anchor="middle" fill="#222" textLength="8.79" lengthAdjust="spacingAndGlyphs" >80</text>
<text class="c" transform="translate(298.80,586.40) rotate(-90) scale(0.6,1)" font-size="11.0" text-anchor="middle" fill="#111">AUC(t)</text>
<text class="m" transform="translate(413.80,671.10) scale(0.67,1)" font-size="9.3" text-anchor="middle" fill="#111">Months</text>
<line x1="321" y1="631.25" x2="508" y2="631.25" stroke="#222" stroke-width="1.25" stroke-dasharray="2.9,3.25" stroke-dashoffset="2.25"/>
<rect x="331.50" y="530.50" width="5.9" height="1.4" fill="#c80c30"/>
<text class="t" x="340.80" y="533.95" font-size="7.67" textLength="16.17" lengthAdjust="spacingAndGlyphs" fill="#1a1a1a">HMR</text>
<rect x="331.50" y="540.10" width="5.9" height="1.4" fill="#561f7e"/>
<text class="t" x="340.80" y="543.55" font-size="7.67" textLength="15.39" lengthAdjust="spacingAndGlyphs" fill="#1a1a1a">NGS</text>
<rect x="362.70" y="530.50" width="5.9" height="1.4" fill="#155492"/>
<text class="t" x="371.90" y="533.95" font-size="7.67" textLength="58.58" lengthAdjust="spacingAndGlyphs" fill="#1a1a1a">MYSEC-PM+HMR</text>
<rect x="362.70" y="540.10" width="5.9" height="1.4" fill="#f98d0c"/>
<text class="t" x="371.90" y="543.55" font-size="7.67" textLength="57.80" lengthAdjust="spacingAndGlyphs" fill="#1a1a1a">MYSEC-PM+NGS</text>
<rect x="436.50" y="530.50" width="5.9" height="1.4" fill="#3cb54a"/>
<text class="t" x="445.60" y="533.95" font-size="7.67" textLength="29.99" lengthAdjust="spacingAndGlyphs" fill="#1a1a1a">MIPSS70</text>
<rect x="436.50" y="540.10" width="5.9" height="1.4" fill="#0b6b4e"/>
<text class="t" x="445.60" y="543.55" font-size="7.67" textLength="58.41" lengthAdjust="spacingAndGlyphs" fill="#1a1a1a">MIPSS70plus v2.0</text>
<polyline points="48.96,556.51 60.42,579.48 71.88,603.66 83.34,583.16 94.80,580.50 106.26,581.52 117.72,579.68 129.18,579.27 140.64,579.48 152.10,579.27 163.56,578.86 175.02,581.32 186.48,583.37 197.94,584.39 209.40,581.73 220.86,578.65" fill="none" stroke="#c80c30" stroke-width="1.35" stroke-linejoin="miter"/>
<polyline points="48.96,564.31 60.42,587.67 71.88,611.04 83.34,589.11 94.80,583.58 106.26,578.04 117.72,577.63 129.18,578.65 140.64,579.07 152.10,578.45 163.56,577.22 175.02,582.35 186.48,584.39 197.94,587.06 209.40,586.03 220.86,584.81" fill="none" stroke="#561f7e" stroke-width="1.35" stroke-linejoin="miter"/>
<polyline points="48.96,557.54 60.42,581.93 71.88,577.63 83.34,568.40 94.80,566.15 106.26,566.15 117.72,559.38 129.18,556.31 140.64,556.11 152.10,554.05 163.56,554.05 175.02,554.05 186.48,554.47 197.94,555.08 209.40,551.80 220.86,554.05" fill="none" stroke="#155492" stroke-width="1.35" stroke-linejoin="miter"/>
<polyline points="48.96,553.03 60.42,585.83 71.88,581.93 83.34,571.48 94.80,567.79 106.26,564.31 117.72,558.77 129.18,557.95 140.64,557.54 152.10,555.08 163.56,554.67 175.02,555.08 186.48,557.13 197.94,558.77 209.40,556.72 220.86,559.59" fill="none" stroke="#f98d0c" stroke-width="1.35" stroke-linejoin="miter"/>
<polyline points="48.96,554.26 60.42,563.69 71.88,566.15 83.34,562.25 94.80,563.28 106.26,559.38 117.72,555.08 129.18,555.70 140.64,557.13 152.10,555.08 163.56,554.67 175.02,556.72 186.48,557.54 197.94,558.77 209.40,557.13 220.86,559.18" fill="none" stroke="#3cb54a" stroke-width="1.35" stroke-linejoin="miter"/>
<polyline points="48.96,557.54 60.42,574.76 71.88,576.61 83.34,562.25 94.80,566.56 106.26,563.28 117.72,559.38 129.18,554.67 140.64,557.13 152.10,555.08 163.56,554.05 175.02,556.11 186.48,560.21 197.94,564.31 209.40,563.69 220.86,561.23" fill="none" stroke="#0b6b4e" stroke-width="1.35" stroke-linejoin="miter"/>
<clipPath id="clipE"><rect x="321" y="520" width="190" height="125.6"/></clipPath>
<g clip-path="url(#clipE)">
<polyline points="327.86,642.62 340.04,651.14 352.22,640.79 364.40,640.79 376.58,644.65 388.76,639.78 400.94,632.67 413.12,621.10 425.30,615.42 437.48,616.63 449.66,621.10 461.84,621.91 474.02,622.52 486.20,617.65 498.38,617.65" fill="none" stroke="#c80c30" stroke-width="1.35" stroke-linejoin="miter"/>
<polyline points="327.86,648.50 340.04,622.52 352.22,623.94 364.40,610.95 376.58,616.63 388.76,622.52 400.94,617.24 413.12,609.53 425.30,606.48 437.48,608.11 449.66,613.39 461.84,613.79 474.02,614.81 486.20,610.34 498.38,610.34" fill="none" stroke="#561f7e" stroke-width="1.35" stroke-linejoin="miter"/>
<polyline points="327.86,587.00 340.04,591.26 352.22,583.95 364.40,576.85 376.58,582.73 388.76,573.80 400.94,578.88 413.12,579.69 425.30,585.58 437.48,587.00 449.66,592.27 461.84,594.10 474.02,595.93 486.20,593.09 498.38,593.09" fill="none" stroke="#155492" stroke-width="1.35" stroke-linejoin="miter"/>
<polyline points="327.86,588.01 340.04,583.14 352.22,578.27 364.40,569.13 376.58,575.83 388.76,571.57 400.94,576.24 413.12,577.25 425.30,584.56 437.48,585.58 449.66,591.26 461.84,593.09 474.02,594.91 486.20,591.66 498.38,591.66" fill="none" stroke="#f98d0c" stroke-width="1.35" stroke-linejoin="miter"/>
<polyline points="327.86,584.97 340.04,583.95 352.22,581.51 364.40,590.85 376.58,594.51 388.76,595.52 400.94,601.21 413.12,598.16 425.30,603.24 437.48,603.85 449.66,606.28 461.84,608.11 474.02,610.34 486.20,605.67 498.38,605.67" fill="none" stroke="#3cb54a" stroke-width="1.35" stroke-linejoin="miter"/>
<polyline points="327.86,605.27 340.04,612.98 352.22,610.95 364.40,608.51 376.58,607.09 388.76,598.57 400.94,607.09 413.12,608.92 425.30,610.95 437.48,612.57 449.66,619.07 461.84,619.07 474.02,619.07 486.20,610.34 498.38,610.34" fill="none" stroke="#0b6b4e" stroke-width="1.35" stroke-linejoin="miter"/>
</g>
<polyline points="48.80,476.50 53.50,476.50 53.50,476.50 53.50,476.50 53.50,472.00 55.10,472.00 55.10,472.00 55.10,472.00 55.10,468.00 58.50,468.00 58.50,468.00 58.50,468.00 58.50,465.20 62.30,465.20 62.30,465.20 62.30,465.20 62.30,462.80 64.70,462.80 64.70,462.80 64.70,462.80 64.70,460.90 69.00,460.90 69.00,460.90 69.00,460.90 69.00,457.50 71.40,457.50 71.40,457.50 71.40,457.50 71.40,453.70 73.80,453.70 73.80,453.70 73.80,453.70 73.80,451.70 76.70,451.70 76.70,451.70 76.70,451.70 76.70,447.90 77.70,447.90 77.70,447.90 77.70,447.90 77.70,443.00 80.00,443.00 80.00,443.00 80.00,443.00 80.00,439.50 81.50,439.50 81.50,439.50 81.50,439.50 81.50,436.30 81.50,436.30 81.50,435.50 83.50,435.50 83.50,432.00 86.30,432.00 86.30,428.50 89.30,428.50 89.30,424.20 92.00,424.20 92.00,420.00 94.60,420.00 94.60,416.50 97.00,416.50 97.00,413.50 99.40,413.50 99.40,410.80 101.50,410.80 101.50,408.00 103.30,408.00 103.30,405.00 110.00,405.00 110.00,405.40 113.00,405.40 113.00,402.70 117.70,402.70 117.70,403.50 121.50,403.50 121.50,404.60 124.60,404.60 124.60,401.20 130.00,401.20 130.00,403.00 130.40,403.00 130.40,400.00 135.40,400.00 135.40,398.80 136.50,398.80 136.50,396.50 153.30,396.50 153.30,396.20 156.50,396.20 156.50,397.40 160.70,397.40 160.70,397.20 161.20,397.20 161.20,394.60 164.00,394.60 164.00,392.00 167.60,392.00 167.60,389.80 170.70,389.80 170.70,387.70 173.40,387.70 173.40,389.80 185.00,389.80 185.00,388.80 188.50,388.80 188.50,389.60 195.90,389.60 195.90,386.90 198.00,386.90 198.00,387.50 205.40,387.50 205.40,388.50 206.50,388.50 206.50,390.60 208.60,390.60 208.60,389.60 210.70,389.60 210.70,383.80 213.90,383.80 213.90,382.70 219.20,382.70 219.20,382.70 221.30,382.70 221.30,382.20" fill="none" stroke="#c80c30" stroke-width="1.2" stroke-linejoin="miter"/>
<polyline points="48.80,476.50 53.50,476.50 53.50,476.50 53.50,476.50 53.50,472.00 55.10,472.00 55.10,472.00 55.10,472.00 55.10,468.00 58.50,468.00 58.50,468.00 58.50,468.00 58.50,465.20 62.30,465.20 62.30,465.20 62.30,465.20 62.30,462.80 64.70,462.80 64.70,462.80 64.70,462.80 64.70,460.90 69.00,460.90 69.00,460.90 69.00,460.90 69.00,457.50 71.40,457.50 71.40,457.50 71.40,457.50 71.40,453.70 73.80,453.70 73.80,453.70 73.80,453.70 73.80,451.70 76.70,451.70 76.70,451.70 76.70,451.70 76.70,447.90 77.70,447.90 77.70,447.90 77.70,447.90 77.70,443.00 80.00,443.00 80.00,443.00 80.00,443.00 80.00,439.50 81.50,439.50 81.50,439.50 81.50,439.50 81.50,436.30 81.50,436.30 81.50,433.50 83.50,433.50 83.50,430.00 86.30,430.00 86.30,426.50 89.30,426.50 89.30,421.80 92.00,421.80 92.00,418.00 94.60,418.00 94.60,414.10 97.00,414.10 97.00,411.50 99.40,411.50 99.40,409.30 101.50,409.30 101.50,406.00 103.30,406.00 103.30,403.10 110.00,403.10 110.00,403.10 112.00,403.10 112.00,400.80 117.70,400.80 117.70,399.60 124.20,399.60 124.20,397.30 128.80,397.30 128.80,395.40 130.40,395.40 130.40,394.20 133.00,394.20 133.00,396.90 135.80,396.90 135.80,394.60 150.00,394.60 150.00,395.00 153.30,395.00 153.30,394.00 153.80,394.00 153.80,391.40 156.50,391.40 156.50,392.50 160.70,392.50 160.70,393.50 161.20,393.50 161.20,390.90 164.00,390.90 164.00,388.70 167.00,388.70 167.00,386.60 170.70,386.60 170.70,381.90 173.40,381.90 173.40,382.90 177.00,382.90 177.00,381.50 180.80,381.50 180.80,380.30 184.20,380.30 184.20,379.00 188.50,379.00 188.50,378.50 192.70,378.50 192.70,380.60 195.90,380.60 195.90,380.00 196.40,380.00 196.40,376.90 198.50,376.90 198.50,379.00 205.40,379.00 205.40,379.50 206.50,379.50 206.50,383.80 208.60,383.80 208.60,384.80 209.60,384.80 209.60,389.00 211.70,389.00 211.70,385.30 216.00,385.30 216.00,383.80 220.20,383.80 220.20,382.70 221.30,382.70 221.30,381.10" fill="none" stroke="#561f7e" stroke-width="1.2" stroke-linejoin="miter"/>
<polyline points="48.80,476.50 53.50,476.50 53.50,476.50 53.50,476.50 53.50,472.00 55.10,472.00 55.10,472.00 55.10,472.00 55.10,468.00 58.50,468.00 58.50,468.00 58.50,468.00 58.50,465.20 62.30,465.20 62.30,465.20 62.30,465.20 62.30,462.80 64.70,462.80 64.70,462.80 64.70,462.80 64.70,460.90 69.00,460.90 69.00,460.90 69.00,460.90 69.00,457.50 71.40,457.50 71.40,457.50 71.40,457.50 71.40,453.70 73.80,453.70 73.80,453.70 73.80,453.70 73.80,451.70 76.70,451.70 76.70,451.70 76.70,451.70 76.70,447.90 77.70,447.90 77.70,447.90 77.70,447.90 77.70,443.00 80.00,443.00 80.00,443.00 80.00,443.00 80.00,439.50 81.50,439.50 81.50,439.50 81.50,439.50 81.50,436.30 81.50,436.30 81.50,438.00 83.50,438.00 83.50,434.00 86.30,434.00 86.30,431.00 88.50,431.00 88.50,428.00 90.80,428.00 90.80,425.20 95.10,425.20 95.10,420.40 99.40,420.40 99.40,416.50 103.30,416.50 103.30,414.10 110.00,414.10 110.00,415.80 115.00,415.80 115.00,416.90 117.70,416.90 117.70,415.80 124.60,415.80 124.60,414.60 129.20,414.60 129.20,417.70 136.50,417.70 136.50,414.60 155.40,414.60 155.40,414.20 156.50,414.20 156.50,418.90 160.70,418.90 160.70,417.30 167.00,417.30 167.00,414.70 173.40,414.70 173.40,411.50 174.40,411.50 174.40,414.70 181.90,414.70 181.90,414.70 185.00,414.70 185.00,412.00 185.30,412.00 185.30,412.30 190.60,412.30 190.60,411.80 191.60,411.80 191.60,410.20 195.90,410.20 195.90,410.70 198.50,410.70 198.50,411.80 205.40,411.80 205.40,411.80 205.90,411.80 205.90,413.40 209.60,413.40 209.60,410.70 221.30,410.70 221.30,409.70" fill="none" stroke="#155492" stroke-width="1.2" stroke-linejoin="miter"/>
<polyline points="48.80,476.50 53.50,476.50 53.50,476.50 53.50,476.50 53.50,472.00 55.10,472.00 55.10,472.00 55.10,472.00 55.10,468.00 58.50,468.00 58.50,468.00 58.50,468.00 58.50,465.20 62.30,465.20 62.30,465.20 62.30,465.20 62.30,462.80 64.70,462.80 64.70,462.80 64.70,462.80 64.70,460.90 69.00,460.90 69.00,460.90 69.00,460.90 69.00,457.50 71.40,457.50 71.40,457.50 71.40,457.50 71.40,453.70 73.80,453.70 73.80,453.70 73.80,453.70 73.80,451.70 76.70,451.70 76.70,451.70 76.70,451.70 76.70,447.90 77.70,447.90 77.70,447.90 77.70,447.90 77.70,443.00 80.00,443.00 80.00,443.00 80.00,443.00 80.00,439.50 81.50,439.50 81.50,439.50 81.50,439.50 81.50,436.30 81.50,436.30 81.50,437.00 83.50,437.00 83.50,433.00 86.30,433.00 86.30,429.50 88.50,429.50 88.50,426.00 90.80,426.00 90.80,422.30 95.10,422.30 95.10,418.00 99.40,418.00 99.40,414.60 103.30,414.60 103.30,412.70 110.00,412.70 110.00,414.20 113.00,414.20 113.00,413.10 115.00,413.10 115.00,415.40 117.70,415.40 117.70,413.10 124.60,413.10 124.60,411.90 128.80,411.90 128.80,413.50 136.20,413.50 136.20,411.50 155.40,411.50 155.40,410.40 155.90,410.40 155.90,414.70 159.60,414.70 159.60,415.20 161.70,415.20 161.70,413.60 166.00,413.60 166.00,410.00 171.30,410.00 171.30,406.20 173.40,406.20 173.40,408.90 181.90,408.90 181.90,406.70 185.00,406.70 185.00,404.60 188.50,404.60 188.50,403.90 190.60,403.90 190.60,401.20 195.90,401.20 195.90,404.40 196.90,404.40 196.90,400.70 198.00,400.70 198.00,404.90 205.40,404.90 205.40,406.00 207.50,406.00 207.50,409.70 209.60,409.70 209.60,404.90 216.00,404.90 216.00,406.50 219.20,406.50 219.20,407.60 221.30,407.60 221.30,403.90" fill="none" stroke="#f98d0c" stroke-width="1.2" stroke-linejoin="miter"/>
<polyline points="48.80,476.50 53.50,476.50 53.50,476.50 53.50,476.50 53.50,472.00 55.10,472.00 55.10,472.00 55.10,472.00 55.10,468.00 58.50,468.00 58.50,468.00 58.50,468.00 58.50,465.20 62.30,465.20 62.30,465.20 62.30,465.20 62.30,462.80 64.70,462.80 64.70,462.80 64.70,462.80 64.70,460.90 69.00,460.90 69.00,460.90 69.00,460.90 69.00,457.50 71.40,457.50 71.40,457.50 71.40,457.50 71.40,453.70 73.80,453.70 73.80,453.70 73.80,453.70 73.80,451.70 76.70,451.70 76.70,451.70 76.70,451.70 76.70,447.90 77.70,447.90 77.70,447.90 77.70,447.90 77.70,443.00 80.00,443.00 80.00,443.00 80.00,443.00 80.00,439.50 81.50,439.50 81.50,439.50 81.50,439.50 81.50,436.30 81.50,436.30 81.50,440.00 83.50,440.00 83.50,437.00 85.00,437.00 85.00,433.80 89.80,433.80 89.80,427.10 94.60,427.10 94.60,424.20 99.40,424.20 99.40,422.30 104.20,422.30 104.20,418.00 110.00,418.00 110.00,421.20 113.00,421.20 113.00,420.40 122.30,420.40 122.30,421.20 124.20,421.20 124.20,422.70 125.40,422.70 125.40,418.80 130.00,418.80 130.00,422.70 135.40,422.70 135.40,418.80 143.00,418.80 143.00,420.80 155.40,420.80 155.40,418.40 156.50,418.40 156.50,423.10 160.70,423.10 160.70,423.10 161.70,423.10 161.70,419.40 166.00,419.40 166.00,417.00 172.30,417.00 172.30,413.10 181.90,413.10 181.90,410.40 185.00,410.40 185.00,407.80 185.30,407.80 185.30,404.90 195.90,404.90 195.90,403.90 198.00,403.90 198.00,401.70 208.60,401.70 208.60,400.70 210.50,400.70 210.50,397.00 212.50,397.00 212.50,393.20 219.50,393.20 219.50,393.20 221.30,393.20 221.30,399.40" fill="none" stroke="#3cb54a" stroke-width="1.2" stroke-linejoin="miter"/>
<polyline points="48.80,476.50 53.50,476.50 53.50,476.50 53.50,476.50 53.50,472.00 55.10,472.00 55.10,472.00 55.10,472.00 55.10,468.00 58.50,468.00 58.50,468.00 58.50,468.00 58.50,465.20 62.30,465.20 62.30,465.20 62.30,465.20 62.30,462.80 64.70,462.80 64.70,462.80 64.70,462.80 64.70,460.90 69.00,460.90 69.00,460.90 69.00,460.90 69.00,457.50 71.40,457.50 71.40,457.50 71.40,457.50 71.40,453.70 73.80,453.70 73.80,453.70 73.80,453.70 73.80,451.70 76.70,451.70 76.70,451.70 76.70,451.70 76.70,447.90 77.70,447.90 77.70,447.90 77.70,447.90 77.70,443.00 80.00,443.00 80.00,443.00 80.00,443.00 80.00,439.50 81.50,439.50 81.50,439.50 81.50,439.50 81.50,436.30 81.50,436.30 81.50,438.50 83.50,438.50 83.50,435.00 86.30,435.00 86.30,432.00 88.50,432.00 88.50,429.00 90.80,429.00 90.80,426.20 95.10,426.20 95.10,421.30 99.40,421.30 99.40,417.50 103.30,417.50 103.30,414.60 110.00,414.60 110.00,416.20 116.20,416.20 116.20,419.20 124.60,419.20 124.60,418.10 126.20,418.10 126.20,414.60 129.20,414.60 129.20,418.10 136.50,418.10 136.50,415.40 155.40,415.40 155.40,416.30 160.20,416.30 160.20,413.60 164.90,413.60 164.90,409.90 170.20,409.90 170.20,403.00 181.90,403.00 181.90,400.40 184.20,400.40 184.20,400.70 186.30,400.70 186.30,403.90 190.60,403.90 190.60,403.90 195.90,403.90 195.90,404.90 198.50,404.90 198.50,409.70 205.40,409.70 205.40,409.70 208.60,409.70 208.60,404.90 210.70,404.90 210.70,394.90 213.90,394.90 213.90,393.30 219.20,393.30 219.20,393.80 221.30,393.80 221.30,398.60" fill="none" stroke="#0b6b4e" stroke-width="1.2" stroke-linejoin="miter"/>
<polyline points="327.40,476.60 338.20,476.60 338.60,470.00 339.30,462.00 340.00,455.00 341.00,447.30 343.30,447.30 343.30,443.70 346.90,443.70 346.90,435.50 357.50,435.50 357.50,424.80 367.00,424.80 367.00,416.50 379.70,416.50 379.70,409.10 383.90,409.10 383.90,401.40 387.40,401.40 387.40,394.90 390.40,394.90 390.40,390.70 393.90,390.70 393.90,387.80 397.50,387.80 397.50,380.70 400.40,380.70 400.40,378.90 405.10,378.90 405.10,377.10 409.90,377.10 409.90,374.80 412.80,374.80 412.80,373.00 431.20,373.00 431.20,369.60 443.50,369.60 443.50,366.50 452.70,366.50 452.70,363.50 475.80,363.50 475.80,364.20 481.90,364.20 481.90,362.70 489.60,362.70 489.60,361.20 497.30,361.20 497.30,359.60" fill="none" stroke="#c80c30" stroke-width="1.2" stroke-linejoin="miter"/>
<polyline points="327.40,476.60 338.20,476.60 338.60,470.00 339.30,462.00 340.00,455.00 341.00,447.30 343.30,447.30 343.30,444.20 346.90,444.20 346.90,436.50 357.50,436.50 357.50,425.80 367.00,425.80 367.00,417.50 379.70,417.50 379.70,410.00 383.90,410.00 383.90,404.00 387.40,404.00 387.40,397.50 390.40,397.50 390.40,393.00 393.90,393.00 393.90,389.50 397.50,389.50 397.50,382.00 405.10,382.00 405.10,380.00 409.90,380.00 409.90,376.00 412.80,376.00 412.80,374.00 431.20,374.00 431.20,371.50 443.50,371.50 443.50,368.50 452.70,368.50 452.70,364.20 475.80,364.20 475.80,365.00 482.00,365.00 482.00,364.20 489.60,364.20 489.60,362.00 497.30,362.00 497.30,358.80" fill="none" stroke="#561f7e" stroke-width="1.2" stroke-linejoin="miter"/>
<polyline points="327.40,476.60 338.20,476.60 338.60,470.00 339.30,462.00 340.00,455.00 341.00,447.30 343.30,447.30 343.30,446.00 346.90,446.00 346.90,440.00 357.50,440.00 357.50,431.50 364.60,431.50 364.60,430.30 367.00,430.30 367.00,428.40 379.70,428.40 379.70,420.50 383.90,420.50 383.90,417.50 387.40,417.50 387.40,413.00 390.40,413.00 390.40,409.30 393.90,409.30 393.90,405.80 397.50,405.80 397.50,400.50 400.40,400.50 400.40,398.70 405.10,398.70 405.10,397.00 409.90,397.00 409.90,393.40 412.80,393.40 412.80,390.00 414.00,390.00 414.00,388.50 418.70,388.50 418.70,387.20 425.80,387.20 425.80,387.20 431.20,387.20 431.20,382.00 443.50,382.00 443.50,377.50 452.70,377.50 452.70,375.50 469.60,375.50 469.60,374.00 475.80,374.00 475.80,372.00 481.90,372.00 481.90,375.80 482.70,375.80 482.70,366.50 489.60,366.50 489.60,364.50 497.30,364.50 497.30,360.50" fill="none" stroke="#155492" stroke-width="1.2" stroke-linejoin="miter"/>
<polyline points="327.40,476.60 338.20,476.60 338.60,470.00 339.30,462.00 340.00,455.00 341.00,447.30 343.30,447.30 343.30,446.70 346.90,446.70 346.90,440.80 357.50,440.80 357.50,432.50 364.60,432.50 364.60,431.30 367.00,431.30 367.00,429.60 379.70,429.60 379.70,422.10 383.90,422.10 383.90,419.10 387.40,419.10 387.40,414.40 390.40,414.40 390.40,410.80 393.90,410.80 393.90,407.30 397.50,407.30 397.50,402.00 400.40,402.00 400.40,400.20 405.10,400.20 405.10,398.40 409.90,398.40 409.90,394.90 412.80,394.90 412.80,391.30 414.00,391.30 414.00,389.60 418.70,389.60 418.70,388.40 425.80,388.40 425.80,388.40 431.20,388.40 431.20,383.50 443.50,383.50 443.50,378.80 452.70,378.80 452.70,376.50 459.60,376.50 459.60,375.80 469.60,375.80 469.60,375.00 475.80,375.00 475.80,372.70 481.90,372.70 481.90,375.00 482.70,375.00 482.70,367.30 489.60,367.30 489.60,365.00 497.30,365.00 497.30,361.90" fill="none" stroke="#f98d0c" stroke-width="1.2" stroke-linejoin="miter"/>
<polyline points="327.40,476.60 338.20,476.60 338.60,470.00 339.30,462.00 340.00,455.00 341.00,447.30 343.30,447.30 343.30,445.00 346.90,445.00 346.90,438.40 357.50,438.40 357.50,428.40 365.20,428.40 365.20,422.50 367.00,422.50 367.00,421.30 379.70,421.30 379.70,414.40 383.90,414.40 383.90,412.00 387.40,412.00 387.40,406.10 390.40,406.10 390.40,400.80 393.90,400.80 393.90,395.50 397.50,395.50 397.50,391.30 400.40,391.30 400.40,389.60 405.10,389.60 405.10,387.80 409.90,387.80 409.90,384.20 412.80,384.20 412.80,381.30 414.00,381.30 414.00,380.10 425.00,380.10 425.00,378.10 431.20,378.10 431.20,376.50 443.50,376.50 443.50,369.60 452.70,369.60 452.70,371.90 457.30,371.90 457.30,369.60 468.00,369.60 468.00,371.90 475.80,371.90 475.80,370.40 480.40,370.40 480.40,368.10 481.90,368.10 481.90,362.70 489.60,362.70 489.60,362.70 498.00,362.70 498.00,355.80" fill="none" stroke="#3cb54a" stroke-width="1.2" stroke-linejoin="miter"/>
<polyline points="327.40,476.60 338.20,476.60 338.60,470.00 339.30,462.00 340.00,455.00 341.00,447.30 343.30,447.30 343.30,444.50 346.90,444.50 346.90,437.20 357.50,437.20 357.50,426.60 367.00,426.60 367.00,418.30 379.70,418.30 379.70,410.80 383.90,410.80 383.90,406.70 387.40,406.70 387.40,400.00 390.40,400.00 390.40,395.00 393.90,395.00 393.90,391.00 397.50,391.00 397.50,383.00 405.10,383.00 405.10,381.90 409.90,381.90 409.90,377.10 412.80,377.10 412.80,375.60 431.20,375.60 431.20,371.20 443.50,371.20 443.50,368.60 452.70,368.60 452.70,366.30 469.60,366.30 469.60,366.80 475.80,366.80 475.80,367.40 478.00,367.40 478.00,369.60 482.70,369.60 482.70,359.60 489.60,359.60 489.60,360.40 497.30,360.40 497.30,358.80" fill="none" stroke="#0b6b4e" stroke-width="1.2" stroke-linejoin="miter"/>
</svg></body></html>
